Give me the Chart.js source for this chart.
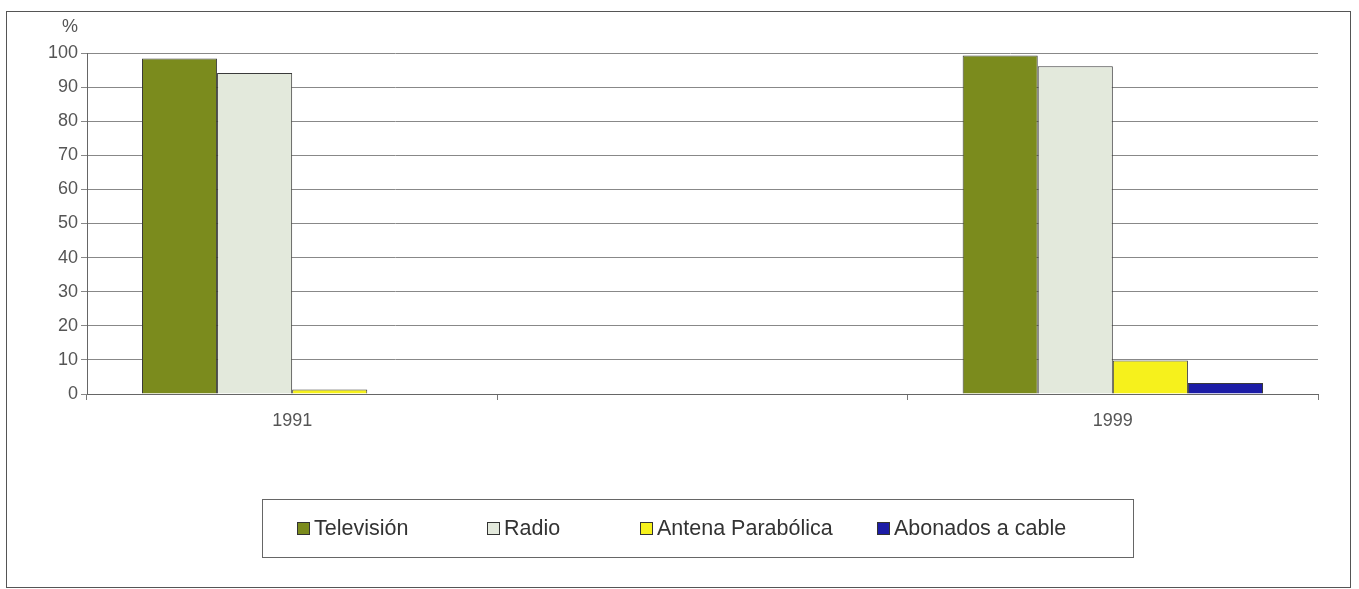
<!DOCTYPE html>
<html>
<head>
<meta charset="utf-8">
<title>Hogares: televisión, radio, antena parabólica y cable</title>
<script src="https://cdn.jsdelivr.net/npm/chart.js@4/dist/chart.umd.min.js"></script>
<style>
  body { margin: 0; background: #fff; font-family: "Liberation Sans", Arial, sans-serif; }
  #wrap { position: relative; width: 1359px; height: 589px; }
  #frame { position: absolute; left: 6px; top: 11px; width: 1343px; height: 575px; border: 1px solid #555; pointer-events: none; }
  #chart { position: absolute; left: 0; top: 0; }
  #legend { position: absolute; left: 262px; top: 499px; width: 872px; height: 59px; border: 1px solid #666;
            display: flex; align-items: center; padding-left: 34px; box-sizing: border-box; }
  #legend .item { display: flex; align-items: center; font-size: 21.5px; color: #333; white-space: nowrap; }
  #legend .item:nth-child(1) { width: 190px; }
  #legend .item:nth-child(2) { width: 153px; }
  #legend .item:nth-child(3) { width: 237px; }
  #legend .box { width: 11px; height: 11px; border: 1px solid #333; margin-right: 4px; }
</style>
</head>
<body>
<div id="wrap">
  <canvas id="chart" width="1359" height="589"></canvas>
  <div id="legend"></div>
  <div id="frame"></div>
</div>
<script>
// data (%)
const years = ['1991', '', '1999'];
const television = [98.4, null, 99.3];
const radio = [94.1, null, 96.1];
const antena = [1.3, null, 9.8];
const cable = [0, null, 3.2];
const seriesNames = ['Televisión', 'Radio', 'Antena Parabólica', 'Abonados a cable'];
const seriesColors = ['#7b8b1d', '#e3e9dc', '#f6f11c', '#1c1ca6'];

const tickFont = { family: '"Liberation Sans", Arial, sans-serif', size: 18 };

// the little "%" above the y axis
const percentLabel = {
  id: 'percentLabel',
  afterDraw(chart) {
    const ctx = chart.ctx;
    const y = chart.scales.y;
    ctx.save();
    ctx.font = '18px "Liberation Sans", Arial, sans-serif';
    ctx.fillStyle = '#555';
    ctx.textAlign = 'right';
    ctx.textBaseline = 'middle';
    ctx.fillText('%', y.right - 9, chart.chartArea.top - 26);
    ctx.restore();
  }
};

const data = {
  labels: years,
  datasets: [television, radio, antena, cable].map((vals, i) => ({
    label: seriesNames[i],
    data: vals,
    backgroundColor: seriesColors[i],
    borderColor: '#3a3a3a',
    borderWidth: 1,
    borderSkipped: 'bottom'
  }))
};

const config = {
  type: 'bar',
  data: data,
  options: {
    responsive: false,
    animation: false,
    categoryPercentage: 0.732,
    barPercentage: 1.0,
    layout: { padding: { left: 10, right: 41, top: 53, bottom: 155 } },
    plugins: {
      legend: { display: false },
      tooltip: { enabled: false }
    },
    scales: {
      x: {
        offset: true,
        grid: { offset: true, drawOnChartArea: false, drawTicks: true, tickLength: 6, color: '#777' },
        border: { color: '#666' },
        ticks: { font: tickFont, color: '#555', padding: 10 },
        afterFit: (scale) => { scale.height = 40; }
      },
      y: {
        min: 0,
        max: 100,
        ticks: { stepSize: 10, font: tickFont, color: '#555', padding: 3 },
        grid: { color: '#888', tickLength: 6 },
        border: { color: '#666' },
        afterFit: (scale) => { scale.width = 77; }
      }
    }
  },
  plugins: [percentLabel]
};

let myChart = new Chart(document.getElementById('chart'), config);

// legend in a bordered box, like the original
const legendEl = document.getElementById('legend');
myChart.data.datasets.forEach(ds => {
  const item = document.createElement('div');
  item.className = 'item';
  const box = document.createElement('span');
  box.className = 'box';
  box.style.background = ds.backgroundColor;
  item.appendChild(box);
  item.appendChild(document.createTextNode(ds.label));
  legendEl.appendChild(item);
});
</script>
</body>
</html>
